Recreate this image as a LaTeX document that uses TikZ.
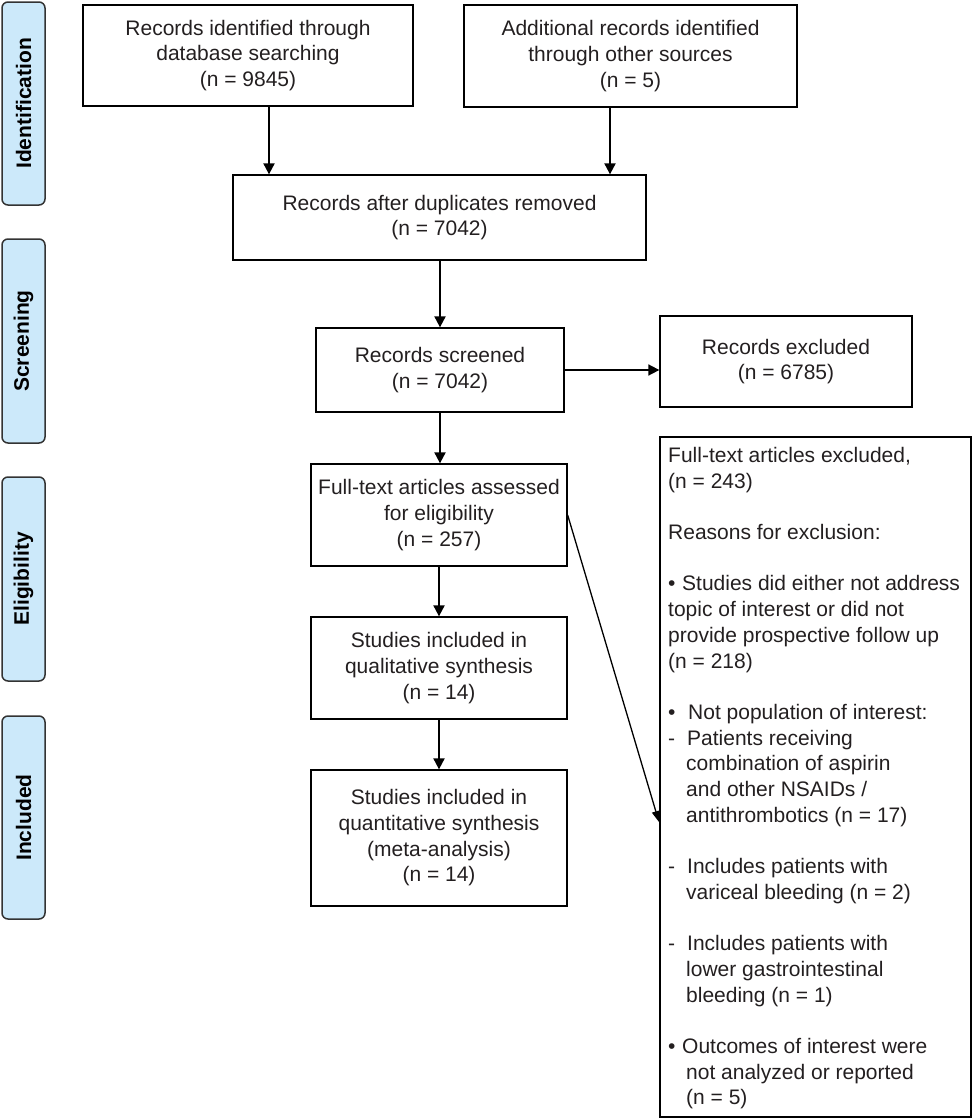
\documentclass[tikz,border=0pt]{standalone}
\usepackage{fontspec}
\setmainfont{Liberation Sans}
\usetikzlibrary{arrows.meta}
\definecolor{txt}{HTML}{231F20}
\definecolor{sidefill}{HTML}{CCE9FA}
\tikzset{
  box/.style={draw=black, line width=1.3pt, align=center, inner sep=0pt, text=txt,
    font=\fontsize{21}{25.7}\selectfont},
  side/.style={draw=black!80, line width=1.5pt, fill=sidefill, rounded corners=6pt,
    minimum width=43pt, inner sep=0pt, text=black, font=\bfseries\fontsize{21}{25}\selectfont},
  arr/.style={line width=2pt, -{Triangle[length=11pt,width=11pt]}},
  thinarr/.style={line width=1.3pt, -{Triangle[length=11pt,width=8pt]}},
  listtext/.style={align=left, inner sep=0pt, text=txt, font=\fontsize{21}{25.7}\selectfont}
}
\begin{document}
\begin{tikzpicture}[x=1pt,y=-1pt]
\useasboundingbox (0,0) rectangle (972,1119);
% side labels
\node[side, minimum height=203pt] (s1) at (23.5,103.5) {};
\node[rotate=90, font=\bfseries\fontsize{21}{25}\selectfont] (s1t) at (s1.center) {Identification};
\node[side, minimum height=204pt] (s2) at (23.5,341) {};
\node[rotate=90, font=\bfseries\fontsize{21}{25}\selectfont] (s2t) at (s2.center) {Screening};
\node[side, minimum height=204pt] (s3) at (23.5,579) {};
\node[rotate=90, font=\bfseries\fontsize{21}{25}\selectfont] (s3t) at (s3.center) {Eligibility};
\node[side, minimum height=203pt] (s4) at (23.5,817.5) {};
\node[rotate=90, font=\bfseries\fontsize{21}{25}\selectfont] (s4t) at (s4.center) {Included};
% main boxes
\node[box, minimum width=330pt, minimum height=101pt] (b1) at (248,55.5)
  {Records identified through\\database searching\\(n = 9845)};
\node[box, minimum width=333pt, minimum height=102pt] (b2) at (630.5,56)
  {Additional records identified\\through other sources\\(n = 5)};
\node[box, minimum width=413pt, minimum height=85pt] (b3) at (439.5,217.5)
  {Records after duplicates removed\\(n = 7042)};
\node[box, minimum width=248pt, minimum height=84pt] (b4) at (440,370)
  {Records screened\\(n = 7042)};
\node[box, minimum width=252pt, minimum height=91pt] (b5) at (786,361.5)
  {Records excluded\\(n = 6785)};
\node[box, minimum width=256pt, minimum height=102pt] (b7) at (439,515)
  {Full-text articles assessed\\for eligibility\\(n = 257)};
\node[box, minimum width=256pt, minimum height=102pt] (b8) at (439,668)
  {Studies included in\\qualitative synthesis\\(n = 14)};
\node[box, minimum width=256pt, minimum height=136pt] (b9) at (439,838)
  {Studies included in\\quantitative synthesis\\(meta-analysis)\\(n = 14)};
\node[box, minimum width=311pt, minimum height=680pt] (b6) at (815.5,777) {};
\node[listtext, anchor=north west] (b6t) at (668,447)
  {Full-text articles excluded,\\
   (n = 243)\\[25.7pt]
   Reasons for exclusion:\\[25.7pt]
   \makebox[14pt][l]{•}Studies did either not address\\
   topic of interest or did not\\
   provide prospective follow up\\
   (n = 218)\\[25.7pt]
   \makebox[20pt][l]{•}Not population of interest:\\
   \makebox[19pt][l]{-}Patients receiving\\
   \hspace*{18pt}combination of aspirin\\
   \hspace*{18pt}and other NSAIDs /\\
   \hspace*{18pt}antithrombotics (n = 17)\\[25.7pt]
   \makebox[19pt][l]{-}Includes patients with\\
   \hspace*{18pt}variceal bleeding (n = 2)\\[25.7pt]
   \makebox[19pt][l]{-}Includes patients with\\
   \hspace*{18pt}lower gastrointestinal\\
   \hspace*{18pt}bleeding (n = 1)\\[25.7pt]
   \makebox[14pt][l]{•}Outcomes of interest were\\
   \hspace*{18pt}not analyzed or reported\\
   \hspace*{18pt}(n = 5)};
% connectors
\coordinate (x1) at (269,0);
\coordinate (x2) at (610,0);
\coordinate (dtip) at (659,822);
\draw[arr] (b1.south -| x1) -- (b3.north -| x1);
\draw[arr] (b2.south -| x2) -- (b3.north -| x2);
\draw[arr] (b3.south -| b4.north) -- (b4.north);
\draw[arr, line width=1.7pt] (b4.east) -- (b4.east -| b5.west);
\draw[arr] (b4.south) -- (b4.south |- b7.north);
\draw[arr] (b7.south) -- (b8.north);
\draw[arr] (b8.south) -- (b9.north);
\draw[thinarr] (b7.east) -- (dtip);
\end{tikzpicture}
\end{document}
